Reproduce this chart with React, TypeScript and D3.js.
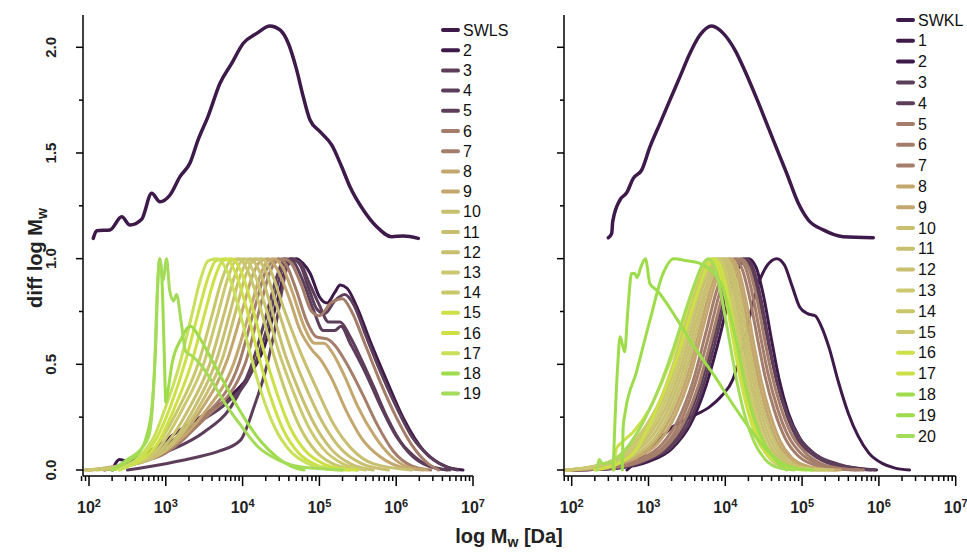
import React from 'react';
import * as d3 from 'd3';

type Pt = [number, number];

// values are [log10 Mw, diff log Mw]

// top curves (offset by ~1.1)
const swls: Pt[] = [[2.056,1.096],[2.1,1.132],[2.273,1.136],[2.426,1.198],[2.534,1.159],[2.686,1.186],[2.816,1.309],[2.924,1.269],[3.055,1.301],[3.185,1.388],[3.315,1.453],[3.419,1.561],[3.549,1.672],[3.706,1.83],[3.858,1.924],[4.009,2.019],[4.184,2.066],[4.357,2.101],[4.487,2.082],[4.595,2.019],[4.704,1.893],[4.79,1.766],[4.878,1.656],[5.008,1.601],[5.16,1.538],[5.29,1.435],[5.398,1.34],[5.572,1.23],[5.746,1.151],[5.941,1.104],[6.093,1.107],[6.288,1.096]];
const swkl: Pt[] = [[2.477,1.099],[2.521,1.12],[2.534,1.175],[2.629,1.278],[2.716,1.312],[2.802,1.38],[2.911,1.419],[3.02,1.53],[3.15,1.64],[3.28,1.751],[3.41,1.861],[3.54,1.972],[3.67,2.058],[3.823,2.101],[3.974,2.066],[4.126,1.987],[4.279,1.869],[4.452,1.719],[4.625,1.561],[4.799,1.404],[4.951,1.262],[5.081,1.183],[5.276,1.136],[5.536,1.104],[5.927,1.099]];

// left panel fractions 2..19
const l2: Pt[] = [[2.3,0],[2.4,0.05],[2.5,0.04],[2.75,0.08],[3.19,0.19],[3.53,0.27],[3.84,0.35],[4.05,0.43],[4.27,0.57],[4.45,0.8],[4.57,0.96],[4.7,1.0],[4.78,0.98],[4.88,0.93],[5.0,0.82],[5.1,0.79],[5.2,0.84],[5.27,0.875],[5.36,0.86],[5.49,0.77],[5.66,0.61],[5.88,0.42],[6.1,0.24],[6.36,0.09],[6.66,0.015],[6.87,0]];
const l3: Pt[] = [[2.3,0],[2.6,0.04],[3.0,0.12],[3.4,0.22],[3.8,0.32],[4.1,0.45],[4.3,0.65],[4.45,0.87],[4.55,0.98],[4.65,1.0],[4.75,0.97],[4.87,0.85],[4.97,0.76],[5.07,0.74],[5.2,0.8],[5.33,0.83],[5.45,0.78],[5.6,0.64],[5.8,0.46],[6.0,0.3],[6.2,0.16],[6.45,0.06],[6.65,0.015],[6.8,0]];
const l4: Pt[] = [[2.5,0],[3.0,0.03],[3.4,0.06],[3.7,0.09],[3.97,0.14],[4.15,0.3],[4.32,0.5],[4.45,0.72],[4.55,0.92],[4.62,1.0],[4.75,0.98],[4.85,0.9],[5.0,0.78],[5.12,0.7],[5.27,0.7],[5.4,0.63],[5.55,0.52],[5.7,0.4],[5.88,0.25],[6.1,0.11],[6.35,0.03],[6.66,0]];
const l5: Pt[] = [[2.3,0],[2.7,0.05],[3.1,0.1],[3.5,0.18],[3.85,0.3],[4.1,0.48],[4.3,0.72],[4.45,0.92],[4.55,1.0],[4.65,0.99],[4.78,0.9],[4.92,0.76],[5.05,0.66],[5.2,0.66],[5.28,0.68],[5.4,0.6],[5.6,0.46],[5.8,0.3],[6.0,0.16],[6.25,0.06],[6.5,0.01],[6.7,0]];
const l6: Pt[] = [[2.2,0],[2.6,0.04],[3.0,0.1],[3.5,0.24],[4.03,0.5],[4.22,0.76],[4.36,0.94],[4.45,0.99],[4.53,1.0],[4.63,0.98],[4.76,0.88],[4.9,0.75],[5.0,0.73],[5.15,0.79],[5.3,0.81],[5.42,0.75],[5.6,0.59],[5.8,0.41],[6.0,0.25],[6.2,0.12],[6.4,0.035],[6.55,0]];
const l7: Pt[] = [[2.2,0],[2.6,0.03],[3.0,0.08],[3.5,0.25],[3.95,0.5],[4.16,0.77],[4.3,0.94],[4.4,0.99],[4.47,1.0],[4.57,0.97],[4.7,0.85],[4.84,0.7],[4.96,0.63],[5.1,0.62],[5.2,0.59],[5.36,0.5],[5.56,0.36],[5.76,0.21],[5.96,0.09],[6.2,0.02],[6.45,0]];
const l8: Pt[] = [[2.0,0],[2.5,0.02],[3.0,0.09],[3.5,0.27],[3.88,0.5],[4.1,0.76],[4.24,0.93],[4.33,0.99],[4.4,1.0],[4.52,0.96],[4.65,0.84],[4.8,0.68],[4.94,0.6],[5.06,0.6],[5.16,0.56],[5.32,0.45],[5.5,0.3],[5.72,0.16],[5.92,0.07],[6.15,0.015],[6.4,0]];
const l9: Pt[] = [[2.0,0],[2.5,0.03],[3.0,0.1],[3.45,0.28],[3.8,0.52],[4.0,0.76],[4.14,0.93],[4.24,0.99],[4.33,1.0],[4.45,0.95],[4.6,0.82],[4.75,0.66],[4.9,0.57],[5.02,0.52],[5.15,0.44],[5.35,0.28],[5.55,0.15],[5.8,0.06],[6.1,0.01],[6.35,0]];
const l10: Pt[] = [[1.95,0],[2.5,0.02],[3.05,0.11],[3.45,0.31],[3.73,0.52],[3.91,0.75],[4.04,0.92],[4.14,0.99],[4.25,1.0],[4.37,0.94],[4.53,0.77],[4.75,0.56],[4.97,0.38],[5.18,0.22],[5.42,0.1],[5.7,0.03],[6.2,0]];
const l11: Pt[] = [[1.95,0],[2.5,0.02],[3.0,0.1],[3.38,0.3],[3.66,0.52],[3.84,0.75],[3.97,0.92],[4.07,0.99],[4.18,1.0],[4.3,0.94],[4.46,0.76],[4.65,0.55],[4.85,0.37],[5.05,0.22],[5.28,0.1],[5.55,0.03],[5.9,0]];
const l12: Pt[] = [[1.95,0],[2.5,0.02],[2.95,0.1],[3.3,0.29],[3.58,0.51],[3.76,0.74],[3.89,0.91],[3.99,0.99],[4.1,1.0],[4.22,0.94],[4.38,0.76],[4.55,0.55],[4.74,0.37],[4.93,0.22],[5.15,0.1],[5.4,0.03],[5.7,0]];
const l13: Pt[] = [[2.0,0],[2.5,0.02],[2.9,0.1],[3.22,0.29],[3.5,0.51],[3.68,0.74],[3.81,0.91],[3.91,0.99],[4.02,1.0],[4.14,0.94],[4.3,0.77],[4.48,0.55],[4.66,0.37],[4.85,0.21],[5.05,0.1],[5.3,0.03],[5.6,0]];
const l14: Pt[] = [[2.1,0],[2.5,0.02],[2.85,0.1],[3.15,0.28],[3.42,0.5],[3.6,0.73],[3.73,0.9],[3.84,0.99],[3.95,1.0],[4.07,0.94],[4.22,0.78],[4.4,0.55],[4.57,0.36],[4.75,0.2],[4.95,0.09],[5.2,0.025],[5.5,0]];
const l15: Pt[] = [[2.3,0],[2.65,0.04],[2.9,0.13],[3.12,0.3],[3.33,0.5],[3.5,0.73],[3.63,0.9],[3.74,0.99],[3.86,1.0],[3.98,0.94],[4.12,0.78],[4.28,0.56],[4.45,0.36],[4.62,0.2],[4.82,0.09],[5.05,0.03],[5.3,0.005],[5.5,0]];
const l16: Pt[] = [[2.4,0],[2.65,0.05],[2.88,0.15],[3.07,0.31],[3.26,0.52],[3.42,0.74],[3.55,0.91],[3.65,0.99],[3.78,1.0],[3.9,0.94],[4.04,0.78],[4.2,0.55],[4.36,0.35],[4.53,0.19],[4.73,0.08],[4.95,0.025],[5.2,0.004],[5.4,0]];
const l17: Pt[] = [[2.4,0],[2.65,0.06],[2.85,0.16],[3.0,0.3],[3.18,0.5],[3.33,0.72],[3.45,0.9],[3.55,0.99],[3.67,1.0],[3.8,0.94],[3.94,0.78],[4.1,0.55],[4.25,0.36],[4.42,0.2],[4.62,0.09],[4.85,0.03],[5.1,0.005],[5.3,0]];
const l18: Pt[] = [[2.3,0],[2.5,0.04],[2.65,0.08],[2.75,0.16],[2.82,0.3],[2.87,0.6],[2.9,0.92],[2.92,1.0],[2.95,0.9],[2.98,0.55],[3.0,0.32],[3.03,0.38],[3.08,0.5],[3.2,0.62],[3.32,0.68],[3.45,0.62],[3.6,0.52],[3.75,0.42],[3.9,0.32],[4.05,0.23],[4.25,0.13],[4.45,0.06],[4.65,0.015],[4.8,0]];
const l19: Pt[] = [[2.3,0],[2.5,0.05],[2.68,0.1],[2.78,0.16],[2.85,0.45],[2.89,0.85],[2.92,1.0],[2.965,0.9],[3.01,1.0],[3.05,0.85],[3.1,0.8],[3.14,0.83],[3.2,0.7],[3.26,0.56],[3.34,0.54],[3.45,0.5],[3.6,0.42],[3.8,0.3],[4.0,0.2],[4.2,0.11],[4.45,0.05],[4.75,0.015],[5.3,0]];

// right panel fractions 1..20
const r1: Pt[] = [[2.72,0],[2.78,0.02],[2.9,0.06],[3.1,0.13],[3.3,0.2],[3.55,0.25],[3.8,0.3],[3.95,0.35],[4.1,0.43],[4.2,0.55],[4.3,0.7],[4.42,0.87],[4.55,0.97],[4.67,1.0],[4.77,0.97],[4.87,0.87],[4.97,0.77],[5.07,0.74],[5.17,0.73],[5.25,0.68],[5.35,0.58],[5.47,0.42],[5.6,0.27],[5.73,0.16],[5.87,0.08],[6.05,0.03],[6.2,0.01],[6.4,0]];
const r2: Pt[] = [[2.0,0],[2.6,0.01],[3.0,0.04],[3.3,0.1],[3.55,0.22],[3.75,0.4],[3.92,0.62],[4.06,0.83],[4.18,0.96],[4.3,1.0],[4.4,0.96],[4.5,0.82],[4.6,0.62],[4.7,0.43],[4.82,0.27],[4.97,0.15],[5.15,0.08],[5.4,0.03],[5.7,0.01],[5.97,0]];
const r3: Pt[] = [[2.0,0],[2.6,0.01],[3.0,0.05],[3.3,0.11],[3.55,0.24],[3.73,0.42],[3.9,0.65],[4.03,0.85],[4.15,0.97],[4.27,1.0],[4.37,0.95],[4.47,0.8],[4.57,0.6],[4.67,0.42],[4.8,0.26],[4.95,0.14],[5.15,0.07],[5.4,0.025],[5.7,0.005],[5.9,0]];
const r4: Pt[] = [[2.0,0],[2.6,0.01],[3.0,0.05],[3.3,0.12],[3.52,0.25],[3.7,0.43],[3.87,0.66],[4.0,0.86],[4.12,0.97],[4.24,1.0],[4.34,0.95],[4.45,0.8],[4.56,0.6],[4.67,0.42],[4.8,0.27],[4.95,0.16],[5.15,0.08],[5.45,0.03],[5.75,0.005],[5.95,0]];
const r5: Pt[] = [[2.0,0],[2.5,0.01],[2.9,0.04],[3.2,0.1],[3.45,0.22],[3.65,0.4],[3.82,0.62],[3.96,0.82],[4.08,0.95],[4.2,1.0],[4.3,0.96],[4.4,0.83],[4.5,0.64],[4.6,0.46],[4.72,0.3],[4.86,0.17],[5.02,0.09],[5.25,0.03],[5.55,0.005],[5.8,0]];
const r6: Pt[] = [[2.0,0],[2.5,0.015],[2.9,0.05],[3.2,0.11],[3.42,0.23],[3.61,0.41],[3.78,0.63],[3.92,0.83],[4.04,0.96],[4.16,1.0],[4.26,0.96],[4.36,0.82],[4.46,0.63],[4.56,0.45],[4.68,0.29],[4.82,0.16],[4.98,0.08],[5.2,0.03],[5.5,0.005],[5.75,0]];
const r7: Pt[] = [[2.0,0],[2.5,0.015],[2.88,0.05],[3.17,0.12],[3.39,0.24],[3.58,0.42],[3.74,0.64],[3.88,0.84],[4.0,0.96],[4.12,1.0],[4.22,0.95],[4.32,0.81],[4.42,0.62],[4.52,0.44],[4.64,0.28],[4.78,0.15],[4.94,0.07],[5.15,0.025],[5.45,0.005],[5.7,0]];
const r8: Pt[] = [[1.95,0],[2.5,0.02],[2.85,0.06],[3.13,0.13],[3.35,0.26],[3.54,0.44],[3.7,0.66],[3.84,0.85],[3.96,0.97],[4.07,1.0],[4.17,0.95],[4.27,0.8],[4.37,0.6],[4.47,0.42],[4.58,0.27],[4.71,0.14],[4.86,0.06],[5.05,0.02],[5.3,0.004],[5.5,0]];
const r9: Pt[] = [[1.95,0],[2.5,0.02],[2.85,0.065],[3.1,0.14],[3.32,0.27],[3.51,0.45],[3.67,0.67],[3.81,0.86],[3.93,0.97],[4.04,1.0],[4.14,0.95],[4.24,0.79],[4.34,0.59],[4.44,0.41],[4.55,0.26],[4.68,0.13],[4.83,0.06],[5.0,0.02],[5.25,0.004],[5.45,0]];
const r10: Pt[] = [[1.92,0],[2.5,0.025],[2.82,0.07],[3.08,0.15],[3.29,0.28],[3.48,0.46],[3.64,0.68],[3.78,0.87],[3.9,0.97],[4.01,1.0],[4.11,0.94],[4.21,0.78],[4.31,0.58],[4.41,0.4],[4.52,0.25],[4.65,0.13],[4.8,0.05],[4.98,0.015],[5.2,0.003],[5.4,0]];
const r11: Pt[] = [[1.92,0],[2.5,0.03],[2.8,0.08],[3.05,0.16],[3.26,0.29],[3.45,0.47],[3.61,0.69],[3.75,0.87],[3.87,0.97],[3.98,1.0],[4.08,0.94],[4.18,0.77],[4.28,0.57],[4.38,0.39],[4.49,0.24],[4.62,0.12],[4.77,0.05],[4.95,0.015],[5.15,0.003],[5.35,0]];
const r12: Pt[] = [[1.92,0],[2.5,0.03],[2.78,0.085],[3.02,0.17],[3.23,0.3],[3.42,0.48],[3.58,0.7],[3.72,0.88],[3.84,0.97],[3.95,1.0],[4.05,0.94],[4.15,0.77],[4.25,0.56],[4.35,0.38],[4.46,0.23],[4.59,0.11],[4.74,0.045],[4.92,0.012],[5.1,0.002],[5.3,0]];
const r13: Pt[] = [[1.95,0],[2.5,0.035],[2.76,0.09],[3.0,0.18],[3.2,0.31],[3.39,0.49],[3.55,0.71],[3.69,0.88],[3.81,0.97],[3.92,1.0],[4.02,0.93],[4.12,0.76],[4.22,0.55],[4.32,0.37],[4.43,0.22],[4.56,0.1],[4.71,0.04],[4.9,0.01],[5.3,0]];
const r14: Pt[] = [[1.95,0],[2.5,0.04],[2.74,0.1],[2.97,0.19],[3.17,0.32],[3.36,0.5],[3.52,0.72],[3.66,0.89],[3.78,0.97],[3.89,1.0],[3.99,0.93],[4.09,0.75],[4.19,0.54],[4.29,0.36],[4.4,0.21],[4.53,0.1],[4.68,0.035],[4.88,0.008],[5.25,0]];
const r15: Pt[] = [[2.0,0],[2.5,0.04],[2.72,0.1],[2.95,0.2],[3.15,0.33],[3.33,0.51],[3.5,0.72],[3.64,0.89],[3.76,0.98],[3.87,1.0],[3.97,0.93],[4.07,0.75],[4.17,0.53],[4.27,0.35],[4.38,0.2],[4.51,0.09],[4.66,0.03],[4.86,0.007],[5.2,0]];
const r16: Pt[] = [[2.3,0],[2.6,0.03],[2.85,0.1],[3.02,0.22],[3.2,0.37],[3.36,0.52],[3.5,0.68],[3.63,0.83],[3.75,0.95],[3.85,1.0],[3.93,0.97],[4.02,0.85],[4.12,0.66],[4.22,0.46],[4.33,0.28],[4.45,0.15],[4.6,0.07],[4.8,0.02],[5.05,0]];
const r17: Pt[] = [[2.55,0],[2.58,0.1],[2.65,0.13],[2.8,0.18],[3.0,0.28],[3.18,0.42],[3.34,0.57],[3.48,0.73],[3.6,0.87],[3.72,0.97],[3.82,1.0],[3.9,0.96],[3.99,0.84],[4.09,0.64],[4.19,0.44],[4.3,0.27],[4.42,0.14],[4.58,0.06],[4.8,0.015],[5.0,0]];
const r18: Pt[] = [[2.66,0],[2.67,0.2],[2.7,0.28],[2.84,0.46],[3.02,0.71],[3.19,0.93],[3.33,1.0],[3.5,0.99],[3.65,0.98],[3.76,0.96],[3.88,0.92],[3.97,0.86],[4.06,0.74],[4.15,0.6],[4.25,0.42],[4.33,0.3],[4.45,0.17],[4.55,0.1],[4.7,0.03],[4.8,0]];
const r19: Pt[] = [[2.54,0],[2.56,0.2],[2.6,0.5],[2.63,0.63],[2.67,0.58],[2.69,0.56],[2.73,0.75],[2.78,0.93],[2.82,0.93],[2.85,0.91],[2.9,0.96],[2.96,1.0],[3.02,0.88],[3.11,0.85],[3.36,0.72],[3.6,0.58],[3.85,0.45],[4.1,0.31],[4.35,0.18],[4.55,0.09],[4.75,0.03],[4.95,0.005],[5.14,0]];
const r20: Pt[] = [[2.33,0],[2.36,0.05],[2.4,0.03],[2.6,0.06],[2.75,0.12],[2.95,0.24],[3.15,0.4],[3.32,0.57],[3.47,0.74],[3.6,0.88],[3.7,0.97],[3.78,1.0],[3.86,0.96],[3.95,0.82],[4.05,0.62],[4.15,0.42],[4.26,0.25],[4.38,0.13],[4.52,0.05],[4.7,0.01],[4.9,0]];

const leftNames = ['SWLS', '2', '3', '4', '5', '6', '7', '8', '9', '10', '11', '12', '13', '14', '15', '16', '17', '18', '19'];
const leftData = [swls, l2, l3, l4, l5, l6, l7, l8, l9, l10, l11, l12, l13, l14, l15, l16, l17, l18, l19];
const leftColors = ['#3d1a4a', '#3d1a4a', '#5d3e5a', '#5d3e5a', '#5d3e5a', '#a57d6b', '#a57d6b', '#c4a76e', '#c4a76e', '#c8c070', '#c8c070', '#c8c070', '#cbc870', '#c8c86a', '#cde048', '#cde048', '#c8e05a', '#9edc4c', '#a4dc5a'];

const rightNames = ['SWKL', '1', '2', '3', '4', '5', '6', '7', '8', '9', '10', '11', '12', '13', '14', '15', '16', '17', '18', '19', '20'];
const rightData = [swkl, r1, r2, r3, r4, r5, r6, r7, r8, r9, r10, r11, r12, r13, r14, r15, r16, r17, r18, r19, r20];
const rightColors = ['#3d1a4a', '#3d1a4a', '#3d1a4a', '#5d3e5a', '#5d3e5a', '#a57d6b', '#a57d6b', '#a57d6b', '#c4a76e', '#c4a76e', '#c8c070', '#c8c070', '#c8c070', '#cbc870', '#c8c86a', '#cbc870', '#cde048', '#cde048', '#9edc4c', '#9edc4c', '#a4dc5a'];

const yTicks = [0, 0.25, 0.5, 0.75, 1, 1.25, 1.5, 1.75, 2];
const font = '"Liberation Sans", Arial, sans-serif';

const y = d3.scaleLinear().domain([0, 2]).range([470, 47.3]);

function Panel(props: { axisX: number; x0: number; x1: number; data: Pt[][]; names: string[]; colors: string[]; yLabels: boolean; legX: number; legY: number; legStep: number }) {
  const { axisX, x0, x1, data, names, colors, yLabels, legX, legY, legStep } = props;
  const x = d3.scaleLog().domain([1e2, 1e7]).range([x0, x1]);
  const line = d3.line<Pt>()
    .x(d => x(Math.pow(10, d[0])))
    .y(d => y(d[1]))
    .curve(d3.curveMonotoneX);
  const xt = d3.scaleLog().domain([80, 1e7]).ticks();
  const axisY = 476;
  return (
    <g>
      {data.map((d, i) => (
        <path key={i} d={line(d) || ''} fill="none" stroke={colors[i]} strokeWidth={i === 0 ? 3.5 : 3} strokeLinejoin="round" strokeLinecap="round" />
      ))}
      {/* y axis */}
      <line x1={axisX} x2={axisX} y1={15} y2={axisY} stroke="#000" strokeWidth={1.5} />
      {yTicks.map(t => {
        const major = Math.abs(t * 2 - Math.round(t * 2)) < 1e-6;
        return (
          <g key={t}>
            <line x1={axisX - (major ? 7 : 4)} x2={axisX} y1={y(t)} y2={y(t)} stroke="#000" strokeWidth={1.5} />
            {yLabels && major && (
              <text transform={`translate(${axisX - 27},${y(t)}) rotate(-90)`} textAnchor="middle" fontSize={15} fontWeight="bold" fontFamily={font} fill="#222">{t.toFixed(1)}</text>
            )}
          </g>
        );
      })}
      {/* x axis */}
      <line x1={axisX} x2={x1} y1={axisY} y2={axisY} stroke="#000" strokeWidth={1.5} />
      {xt.map(v => {
        const e = Math.log10(v);
        const major = Math.abs(e - Math.round(e)) < 1e-9;
        return (
          <g key={v}>
            <line x1={x(v)} x2={x(v)} y1={axisY} y2={axisY + (major ? 10 : 5)} stroke="#000" strokeWidth={1.5} />
            {major && (
              <text x={x(v)} y={513} textAnchor="middle" fontSize={16} fontWeight="bold" fontFamily={font} fill="#222">
                10<tspan dy={-6} fontSize={11}>{Math.round(e)}</tspan>
              </text>
            )}
          </g>
        );
      })}
      {/* legend */}
      {names.map((n, i) => (
        <g key={n}>
          <line x1={legX} x2={legX + 15} y1={legY + i * legStep} y2={legY + i * legStep} stroke={colors[i]} strokeWidth={4} strokeLinecap="round" />
          <text x={legX + 20} y={legY + i * legStep + 5.5} fontSize={16} fontFamily={font} fill="#111">{n}</text>
        </g>
      ))}
    </g>
  );
}

export default function App() {
  return (
    <svg width={967} height={552} style={{ position: 'absolute', left: 0, top: 0, background: '#fff' }}>
      <Panel axisX={83} x0={89} x1={473} data={leftData} names={leftNames} colors={leftColors} yLabels={true} legX={443} legY={30} legStep={20.2} />
      <Panel axisX={564} x0={571.7} x1={955.7} data={rightData} names={rightNames} colors={rightColors} yLabels={false} legX={898} legY={20} legStep={20.8} />
      <text transform="translate(42,258) rotate(-90)" textAnchor="middle" fontSize={20} fontWeight="bold" fontFamily={font} fill="#222">
        diff log M<tspan dy={5} fontSize={14}>w</tspan>
      </text>
      <text x={509} y={543} textAnchor="middle" fontSize={20} fontWeight="bold" fontFamily={font} fill="#222">
        log M<tspan dy={4} fontSize={14}>w</tspan><tspan dy={-4}> [Da]</tspan>
      </text>
    </svg>
  );
}
